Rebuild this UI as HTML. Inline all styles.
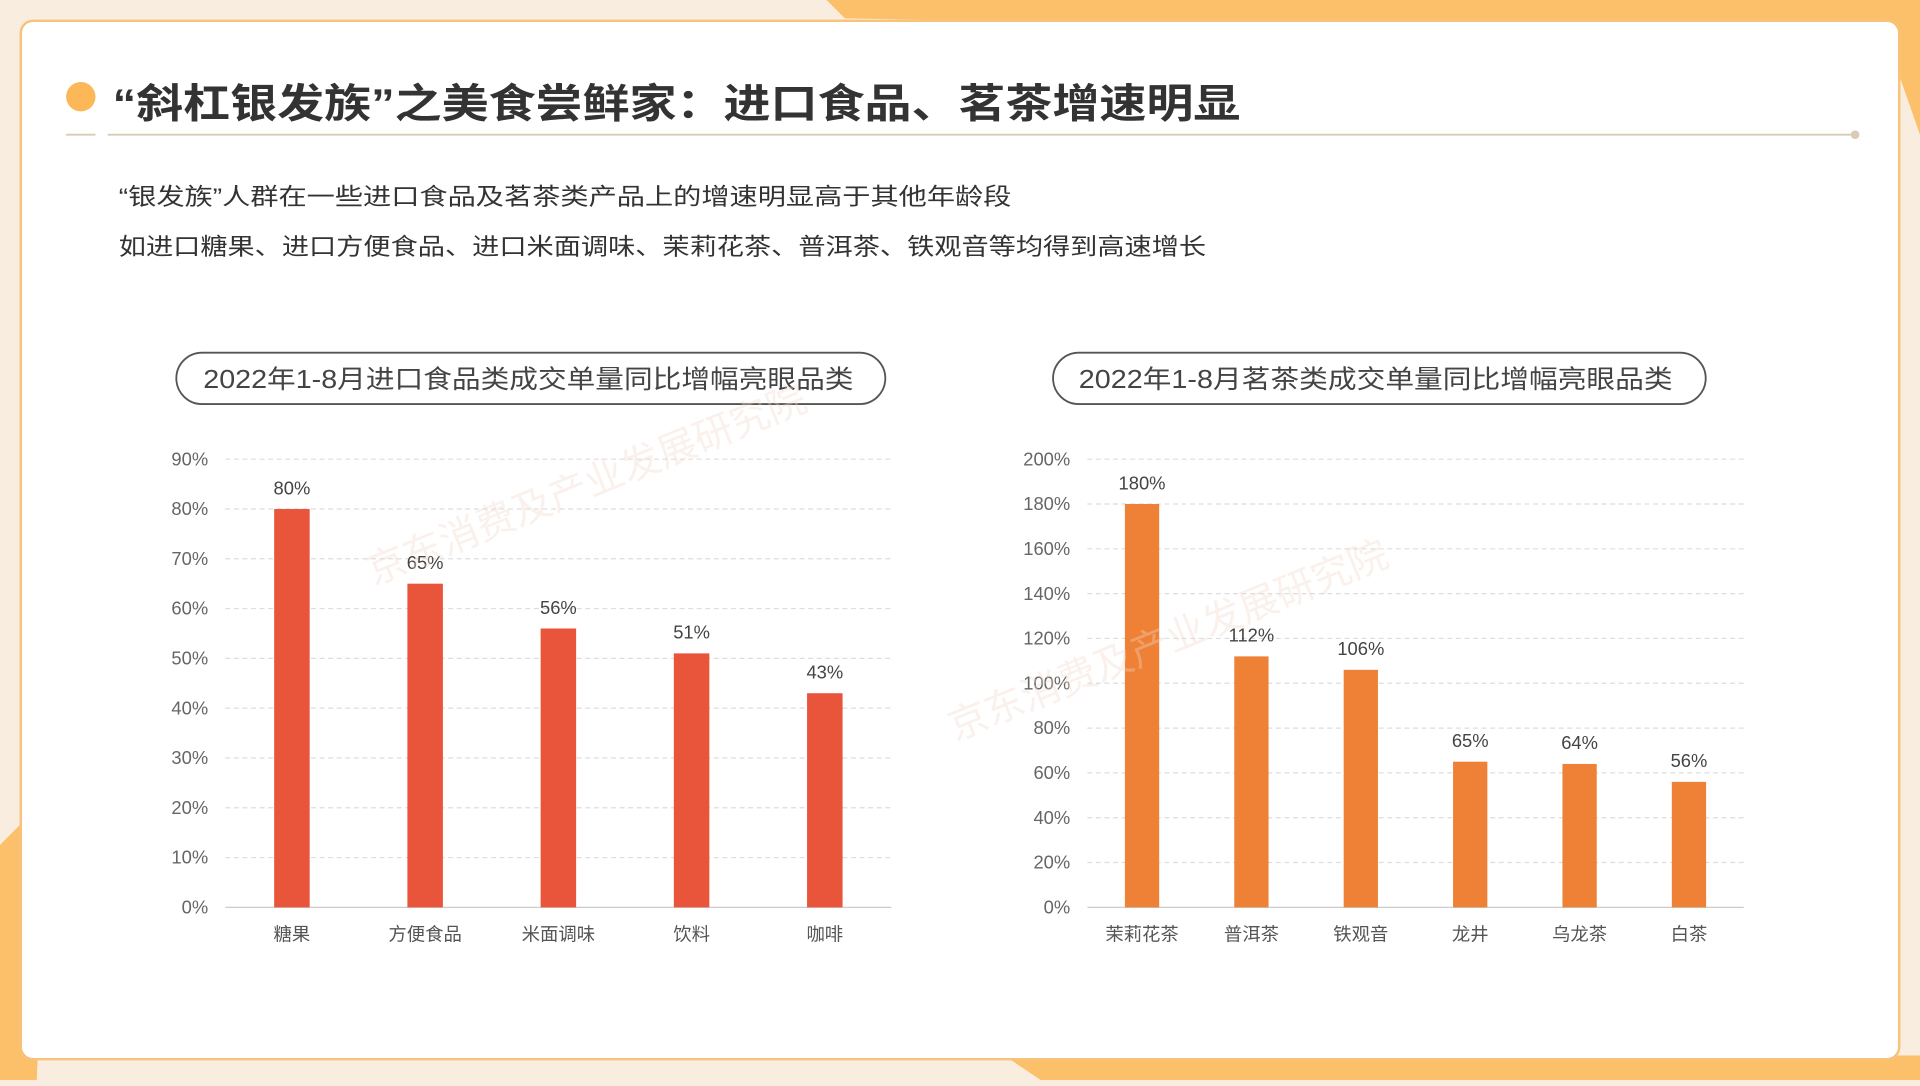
<!DOCTYPE html>
<html><head><meta charset="utf-8">
<style>
html,body{margin:0;padding:0;width:1920px;height:1080px;overflow:hidden;background:#f9ede0;}
#wrap{position:absolute;left:0;top:0;width:1568px;height:882px;transform:scale(1.22449);transform-origin:0 0;font-family:"Liberation Sans","Noto Sans CJK SC",sans-serif;}
svg text{font-family:"Liberation Sans","Noto Sans CJK SC",sans-serif;}
</style></head>
<body>
<div id="wrap">
<svg id="svg" width="1568" height="882" viewBox="0 0 1568 882" xmlns="http://www.w3.org/2000/svg">
  <rect x="0" y="0" width="1568" height="882" fill="#f9ede0"/>
  <polygon points="675,0 1568,0 1568,110 1540,30 690,15" fill="#fdc06a"/>
  <polygon points="0,690 40,650 30,882 0,882" fill="#fdc06a"/>
  <polygon points="820,862 1568,862 1568,882 850,882" fill="#fdc06a"/>
  <rect x="17" y="17" width="1534" height="848" rx="10" fill="#fff" stroke="#f7c27a" stroke-width="2"/>
  <circle cx="66" cy="79" r="12" fill="#fcb858"/>
  <text x="92" y="96" font-size="33" font-weight="bold" fill="#333" textLength="921" lengthAdjust="spacingAndGlyphs">“斜杠银发族”之美食尝鲜家：进口食品、茗茶增速明显</text>
  <line x1="54" y1="110" x2="78" y2="110" stroke="#d9cbb5" stroke-width="1.5"/>
  <line x1="88" y1="110" x2="1515" y2="110" stroke="#d9cbb5" stroke-width="1.5"/>
  <circle cx="1515" cy="110" r="3.5" fill="#d9cbb5"/>
  <text x="97" y="167" font-size="19" fill="#333" textLength="729" lengthAdjust="spacingAndGlyphs">“银发族”人群在一些进口食品及茗茶类产品上的增速明显高于其他年龄段</text>
  <text x="97" y="208" font-size="19" fill="#333" textLength="888" lengthAdjust="spacingAndGlyphs">如进口糖果、进口方便食品、进口米面调味、茉莉花茶、普洱茶、铁观音等均得到高速增长</text>
  <rect x="144" y="288" width="579" height="42" rx="21" fill="none" stroke="#555" stroke-width="1.5"/>
  <text x="166" y="317" font-size="21" fill="#444" textLength="531" lengthAdjust="spacingAndGlyphs">2022年1-8月进口食品类成交单量同比增幅亮眼品类</text>
  <rect x="860" y="288" width="533" height="42" rx="21" fill="none" stroke="#555" stroke-width="1.5"/>
  <text x="881" y="317" font-size="21" fill="#444" textLength="485" lengthAdjust="spacingAndGlyphs">2022年1-8月茗茶类成交单量同比增幅亮眼品类</text>
  <g id="left"></g>
  <g id="right"></g>
  <text x="305" y="478" font-size="32" fill="#f3d9cc" opacity="0.35" transform="rotate(-22 305 478)">京东消费及产业发展研究院</text>
  <text x="780" y="605" font-size="32" fill="#f3d9cc" opacity="0.35" transform="rotate(-22 780 605)">京东消费及产业发展研究院</text>
</svg>
</div>
<script>
const leftCategories=["糖果","方便食品","米面调味","饮料","咖啡"];
const leftValues=[80,65,56,51,43];
const leftTicks=[0,10,20,30,40,50,60,70,80,90];
const rightCategories=["茉莉花茶","普洱茶","铁观音","龙井","乌龙茶","白茶"];
const rightValues=[180,112,106,65,64,56];
const rightTicks=[0,20,40,60,80,100,120,140,160,180,200];
const NS="http://www.w3.org/2000/svg";
function mk(tag,attrs,parent){const e=document.createElementNS(NS,tag);for(const k in attrs)e.setAttribute(k,attrs[k]);parent.appendChild(e);return e;}
function draw(g,cats,vals,ticks,cfg){
  const max=ticks[ticks.length-1];
  const y=v=>cfg.y0-(v/max)*(cfg.y0-cfg.y1);
  const step=(cfg.x1-cfg.x0)/cats.length;
  const x=i=>cfg.x0+step*(i+0.5);
  ticks.forEach(t=>{
    const ln=mk('line',{x1:cfg.x0,x2:cfg.x1,y1:y(t),y2:y(t),stroke:t===0?'#ccc':'#ddd','stroke-width':1,'stroke-dasharray':t===0?'':'4,3'},g);
    
    
    const tx=mk('text',{x:cfg.x0-14,y:y(t)+5,'font-size':15,fill:'#666','text-anchor':'end'},g);
    tx.textContent=t+'%';
    
    
  });
  vals.forEach((v,i)=>{
    const r=mk('rect',{x:x(i)-cfg.bw/2,y:y(v),width:cfg.bw,height:cfg.y0-y(v),fill:cfg.color},g);
    
    
    const lb=mk('text',{x:x(i),y:y(v)-12,'font-size':15,fill:'#444','text-anchor':'middle'},g);
    lb.textContent=v+'%';
    
    
    const c=mk('text',{x:x(i),y:cfg.y0+27,'font-size':15,fill:'#555','text-anchor':'middle'},g);
    c.textContent=cats[i];
    
    
  });
}
draw(document.getElementById('left'),leftCategories,leftValues,leftTicks,{x0:184,x1:728,y0:741,y1:375,bw:29,color:'#e8553a'});
draw(document.getElementById('right'),rightCategories,rightValues,rightTicks,{x0:888,x1:1424,y0:741,y1:375,bw:28,color:'#ee8135'});
</script>
</body></html>
